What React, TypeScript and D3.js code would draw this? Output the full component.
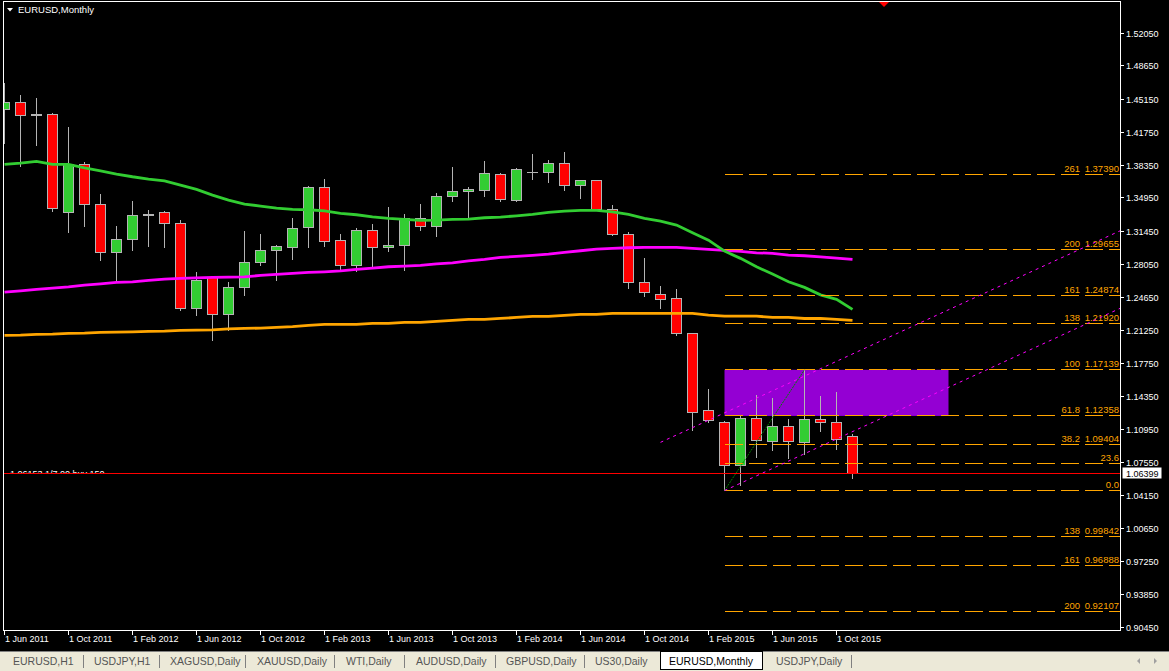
import React, { useEffect, useRef } from 'react';
import * as d3 from 'd3';

// EURUSD monthly bars, Jun 2011 .. Nov 2015
const opens = [
  1.4407, 1.4486, 1.4352, 1.4362, 1.3346, 1.3843, 1.3429, 1.2931, 1.3066, 1.3315,
  1.3346, 1.3232, 1.2350, 1.2672, 1.2288, 1.2568, 1.2827, 1.2952, 1.2983, 1.3186,
  1.3605, 1.3055, 1.2792, 1.3159, 1.2983, 1.3000, 1.3279, 1.3200, 1.3512, 1.3563,
  1.3574, 1.3740, 1.3470, 1.3760, 1.3756, 1.3854, 1.3626, 1.3678, 1.3377, 1.3117,
  1.2620, 1.2496, 1.2454, 1.2091, 1.1292, 1.1168, 1.0718, 1.1209, 1.0967, 1.1126,
  1.0956, 1.1199, 1.1168, 1.1023,
];
const highs = [
  1.4687, 1.4572, 1.4541, 1.4380, 1.4241, 1.3870, 1.3543, 1.3214, 1.3473, 1.3380,
  1.3370, 1.3273, 1.2737, 1.2680, 1.2633, 1.3162, 1.3128, 1.3017, 1.3297, 1.3620,
  1.3701, 1.3131, 1.3190, 1.3235, 1.3411, 1.3338, 1.3442, 1.3556, 1.3826, 1.3618,
  1.3888, 1.3764, 1.3815, 1.3961, 1.3898, 1.3981, 1.3691, 1.3691, 1.3432, 1.3152,
  1.2879, 1.2589, 1.2561, 1.2101, 1.1521, 1.1185, 1.1254, 1.1454, 1.1430, 1.1213,
  1.1714, 1.1451, 1.1493, 1.1050,
];
const lows = [
  1.4064, 1.3819, 1.4036, 1.3352, 1.3134, 1.3196, 1.2844, 1.2626, 1.2955, 1.2989,
  1.2979, 1.2325, 1.2273, 1.2021, 1.2118, 1.2488, 1.2792, 1.2644, 1.2861, 1.2979,
  1.2996, 1.2758, 1.2730, 1.2775, 1.2937, 1.2740, 1.3155, 1.3093, 1.3456, 1.3279,
  1.3507, 1.3463, 1.3462, 1.3691, 1.3653, 1.3570, 1.3487, 1.3377, 1.3110, 1.2558,
  1.2470, 1.2346, 1.2070, 1.1081, 1.1164, 1.0462, 1.0510, 1.0801, 1.0873, 1.0791,
  1.0832, 1.1071, 1.0884, 1.0583,
];
const closes = [
  1.4489, 1.4347, 1.4358, 1.3387, 1.3847, 1.3429, 1.2931, 1.3066, 1.3315, 1.3321,
  1.3232, 1.2350, 1.2644, 1.2288, 1.2568, 1.2827, 1.2952, 1.2993, 1.3180, 1.3605,
  1.3045, 1.2792, 1.3159, 1.2983, 1.3003, 1.3279, 1.3200, 1.3512, 1.3563, 1.3584,
  1.3750, 1.3476, 1.3792, 1.3756, 1.3854, 1.3626, 1.3678, 1.3377, 1.3117, 1.2620,
  1.2516, 1.2444, 1.2091, 1.1272, 1.1189, 1.0718, 1.1209, 1.0977, 1.1126, 1.0967,
  1.1199, 1.1168, 1.0988, 1.0640,
];

// moving averages, read per bar
const maGreen = [
  1.3843, 1.3857, 1.3875, 1.3843, 1.3843, 1.3808, 1.3777, 1.3743, 1.3715, 1.3691,
  1.3673, 1.3629, 1.3584, 1.3525, 1.3473, 1.3432, 1.3411, 1.3390, 1.3377, 1.3373,
  1.3362, 1.3335, 1.3321, 1.3300, 1.3283, 1.3273, 1.3263, 1.3266, 1.3273, 1.3276,
  1.3290, 1.3297, 1.3310, 1.3325, 1.3346, 1.3359, 1.3366, 1.3366, 1.3352, 1.3325,
  1.3283, 1.3255, 1.3214, 1.3134, 1.3058, 1.2944, 1.2869, 1.2782, 1.2706, 1.2626,
  1.2568, 1.2491, 1.2444, 1.2340,
];
const maMagenta = [
  1.2519, 1.2533, 1.2547, 1.2561, 1.2574, 1.2592, 1.2605, 1.2620, 1.2626, 1.2641,
  1.2654, 1.2661, 1.2667, 1.2672, 1.2675, 1.2678, 1.2692, 1.2703, 1.2713, 1.2723,
  1.2730, 1.2740, 1.2755, 1.2768, 1.2782, 1.2789, 1.2796, 1.2813, 1.2823, 1.2844,
  1.2858, 1.2879, 1.2889, 1.2900, 1.2913, 1.2931, 1.2948, 1.2965, 1.2972, 1.2979,
  1.2983, 1.2983, 1.2983, 1.2972, 1.2962, 1.2952, 1.2941, 1.2927, 1.2921, 1.2903,
  1.2896, 1.2885, 1.2872, 1.2858,
];
const maOrange = [
  1.2070, 1.2073, 1.2081, 1.2084, 1.2091, 1.2094, 1.2101, 1.2104, 1.2108, 1.2112,
  1.2115, 1.2122, 1.2125, 1.2128, 1.2139, 1.2143, 1.2146, 1.2153, 1.2161, 1.2174,
  1.2184, 1.2184, 1.2184, 1.2195, 1.2195, 1.2205, 1.2205, 1.2215, 1.2226, 1.2236,
  1.2236, 1.2246, 1.2257, 1.2267, 1.2267, 1.2278, 1.2288, 1.2288, 1.2298, 1.2298,
  1.2298, 1.2298, 1.2298, 1.2298, 1.2281, 1.2270, 1.2270, 1.2270, 1.2257, 1.2257,
  1.2246, 1.2246, 1.2236, 1.2226,
];

const dateTicks = [
  '1 Jun 2011', '1 Oct 2011', '1 Feb 2012', '1 Jun 2012', '1 Oct 2012', '1 Feb 2013',
  '1 Jun 2013', '1 Oct 2013', '1 Feb 2014', '1 Jun 2014', '1 Oct 2014', '1 Feb 2015',
  '1 Jun 2015', '1 Oct 2015',
];
const priceTicks = [
  1.5205, 1.4865, 1.4515, 1.4175, 1.3835, 1.3495, 1.3145, 1.2805, 1.2465, 1.2125,
  1.1775, 1.1435, 1.1095, 1.0755, 1.0415, 1.0065, 0.9725, 0.9385, 0.9045,
];

const fibLevels = ['261', '200', '161', '138', '100', '61.8', '38.2', '23.6', '0.0', '138', '161', '200'];
const fibPrices = [1.3739, 1.29655, 1.24874, 1.2192, 1.17139, 1.12358, 1.09404, 1.0745, 1.04623, 0.99842, 0.96888, 0.92107];
const fibHasPrice = [true, true, true, true, true, true, true, false, false, true, true, true];

const tabs = [
  'EURUSD,H1', 'USDJPY,H1', 'XAGUSD,Daily', 'XAUUSD,Daily', 'WTI,Daily', 'AUDUSD,Daily',
  'GBPUSD,Daily', 'US30,Daily', 'EURUSD,Monthly', 'USDJPY,Daily',
];
const tabX = [13, 94, 170, 257, 346, 416, 506, 595, 669, 776];
const tabSeparators = [83, 159, 245, 334, 404, 495, 584, 851];
const activeTab = 8;

const currentPrice = 1.06399;
const fibStart = 45; // Mar 2015 low
const fibEnd = 50; // Aug 2015 high
const boxEnd = 59;
// channel lines: [bar, price] anchors
const channels = [
  [[41, 1.0962], [50, 1.1649]],
  [[45, 1.0462], [50, 1.0844]],
];

const W = 1169;
const H = 671;
const FONT = '"Liberation Sans", Arial, sans-serif';

const App: React.FC = () => {
  const svgRef = useRef<SVGSVGElement>(null);

  useEffect(() => {
    document.body.style.margin = '0';
    document.body.style.background = '#000';
    if (!svgRef.current) return;
    const svg = d3.select(svgRef.current);
    svg.selectAll('*').remove();

    const left = 3, right = 1120, top = 1.5, bottom = 630;

    const x = d3.scaleLinear().domain([0, 53]).range([4.5, 852.5]);
    const y = d3.scaleLinear().domain([0.9045, 1.5205]).range([627.3, 33]);
    const crisp = (v: number) => Math.round(v - 0.5) + 0.5;

    svg.append('rect').attr('width', W).attr('height', H).attr('fill', '#000');

    svg.append('defs').append('clipPath').attr('id', 'plot')
      .append('rect').attr('x', left).attr('y', top).attr('width', right - left).attr('height', bottom - top);

    const plot = svg.append('g').attr('clip-path', 'url(#plot)');

    // fibo zone box
    plot.append('rect')
      .attr('x', crisp(x(fibStart)))
      .attr('y', y(fibPrices[4]))
      .attr('width', x(boxEnd) - x(fibStart))
      .attr('height', y(fibPrices[5]) - y(fibPrices[4]))
      .attr('fill', '#9400D3');

    // candles
    const bars = d3.range(opens.length);
    const candle = plot.append('g').attr('shape-rendering', 'crispEdges');
    bars.forEach(i => {
      const cx = x(i);
      const o = opens[i], c = closes[i];
      candle.append('line')
        .attr('x1', cx).attr('x2', cx)
        .attr('y1', crisp(y(highs[i]))).attr('y2', crisp(y(lows[i])))
        .attr('stroke', '#b4b4b4').attr('stroke-width', 1);
      const yTop = crisp(y(Math.max(o, c)));
      const yBot = crisp(y(Math.min(o, c)));
      candle.append('rect')
        .attr('x', cx - 5).attr('y', yTop)
        .attr('width', 10).attr('height', Math.max(0.01, yBot - yTop))
        .attr('fill', c > o ? '#32CD32' : c < o ? '#FF0000' : '#b4b4b4')
        .attr('stroke', '#b4b4b4').attr('stroke-width', 1);
    });

    // moving averages
    const maLine = (vals: number[]) =>
      d3.line<number>().x((_, i) => x(i)).y(v => y(v))(vals) || '';
    [
      { vals: maOrange, color: '#FFA500' },
      { vals: maMagenta, color: '#FF00FF' },
      { vals: maGreen, color: '#32CD32' },
    ].forEach(m => {
      plot.append('path').attr('d', maLine(m.vals))
        .attr('fill', 'none').attr('stroke', m.color).attr('stroke-width', 2.8);
    });

    // fibo levels
    fibPrices.forEach((p, k) => {
      const ly = crisp(y(p));
      plot.append('line')
        .attr('x1', crisp(x(fibStart))).attr('x2', right)
        .attr('y1', ly).attr('y2', ly)
        .attr('stroke', '#FFA500').attr('stroke-width', 1)
        .attr('shape-rendering', 'crispEdges')
        .attr('stroke-dasharray', '18 6');
      if (fibHasPrice[k]) {
        plot.append('text').attr('x', 1080).attr('y', ly - 2.5)
          .attr('text-anchor', 'end').attr('fill', '#FFA500')
          .style('font', `9.5px ${FONT}`).text(fibLevels[k]);
        plot.append('text').attr('x', 1119).attr('y', ly - 2.5)
          .attr('text-anchor', 'end').attr('fill', '#FFA500')
          .style('font', `9.5px ${FONT}`).text(d3.format('.5f')(p));
      } else {
        plot.append('text').attr('x', 1119).attr('y', ly - 2.5)
          .attr('text-anchor', 'end').attr('fill', '#FFA500')
          .style('font', `9.5px ${FONT}`).text(fibLevels[k]);
      }
    });

    // fibo trend line
    plot.append('line')
      .attr('x1', x(fibStart)).attr('y1', y(fibPrices[8]))
      .attr('x2', x(fibEnd)).attr('y2', y(highs[fibEnd]))
      .attr('stroke', '#008000').attr('stroke-width', 1)
      .attr('stroke-dasharray', '2 1');

    // channel rays
    const xEnd = x.invert(right);
    channels.forEach(([[i0, p0], [i1, p1]]) => {
      const slope = (p1 - p0) / (i1 - i0);
      plot.append('line')
        .attr('x1', x(i0)).attr('y1', y(p0))
        .attr('x2', x(xEnd)).attr('y2', y(p0 + slope * (xEnd - i0)))
        .attr('stroke', '#FF00FF').attr('stroke-width', 1)
        .attr('stroke-dasharray', '3 4');
    });

    // bid line and its trade label
    const bidY = crisp(y(currentPrice));
    svg.append('defs').append('clipPath').attr('id', 'lbl')
      .append('rect').attr('x', 0).attr('y', bidY - 5).attr('width', 200).attr('height', 4.5);
    svg.append('text').attr('x', 10).attr('y', bidY + 3)
      .attr('clip-path', 'url(#lbl)').attr('fill', '#fff')
      .style('font', `9px ${FONT}`).text('1.06153 1/7.00 buy 150');
    plot.append('line').attr('x1', 0).attr('x2', right)
      .attr('y1', bidY).attr('y2', bidY)
      .attr('shape-rendering', 'crispEdges')
      .attr('stroke', '#FF0000').attr('stroke-width', 1);

    // frame
    svg.append('path')
      .attr('d', `M${left + 0.5},${bottom} V${top} H${right} V${bottom} H${left}`)
      .attr('shape-rendering', 'crispEdges')
      .attr('fill', 'none').attr('stroke', '#fff').attr('stroke-width', 1);

    // price axis
    priceTicks.forEach(p => {
      const ty = crisp(y(p));
      svg.append('line').attr('x1', right).attr('x2', right + 4)
        .attr('y1', ty).attr('y2', ty).attr('stroke', '#fff');
      svg.append('text').attr('x', 1126).attr('y', ty + 3.5)
        .attr('fill', '#fff').style('font', `9px ${FONT}`)
        .text(d3.format('.5f')(p));
    });
    svg.append('rect').attr('x', 1122.5).attr('y', bidY - 6).attr('width', 39).attr('height', 11)
      .attr('fill', '#fff');
    svg.append('text').attr('x', 1126).attr('y', bidY + 3.5)
      .attr('fill', '#000').style('font', `9px ${FONT}`)
      .text(d3.format('.5f')(currentPrice));

    // time axis
    dateTicks.forEach((label, k) => {
      const tx = x(k * 4);
      svg.append('line').attr('x1', tx).attr('x2', tx)
        .attr('y1', bottom).attr('y2', bottom + 5).attr('stroke', '#fff');
      svg.append('text').attr('x', tx + 0.5).attr('y', 642)
        .attr('fill', '#fff').style('font', `9px ${FONT}`).text(label);
    });

    // title
    svg.append('path').attr('d', 'M7,8 H13 L10,11.5 Z').attr('fill', '#fff');
    svg.append('text').attr('x', 18).attr('y', 13)
      .attr('fill', '#fff').style('font', `9.5px ${FONT}`).text('EURUSD,Monthly');

    // shift marker
    svg.append('path').attr('d', 'M879,2 H889 L884,7 Z').attr('fill', '#FF0000');

    // tab bar
    svg.append('rect').attr('x', 0).attr('y', 651).attr('width', W).attr('height', H - 651)
      .attr('fill', '#ECE9D8');
    svg.append('line').attr('x1', 0).attr('x2', W).attr('y1', 651.5).attr('y2', 651.5)
      .attr('stroke', '#808080');
    svg.append('rect').attr('x', 660.5).attr('y', 651.5).attr('width', 102).attr('height', 18)
      .attr('fill', '#fff').attr('stroke', '#000');
    tabSeparators.forEach(sx => {
      svg.append('line').attr('x1', sx + 0.5).attr('x2', sx + 0.5)
        .attr('y1', 655).attr('y2', 668).attr('stroke', '#808080');
    });
    tabs.forEach((t, k) => {
      svg.append('text').attr('x', tabX[k]).attr('y', 665)
        .attr('fill', k === activeTab ? '#000' : '#555')
        .style('font', `10.5px ${FONT}`).text(t);
    });
    svg.append('path').attr('d', 'M1140,658 L1137,661 L1140,664 Z').attr('fill', '#a0a0a0');
    svg.append('path').attr('d', 'M1154,658 L1157,661 L1154,664 Z').attr('fill', '#a0a0a0');
  }, []);

  return (
    <svg ref={svgRef} width={W} height={H} style={{ display: 'block' }} />
  );
};

export default App;
